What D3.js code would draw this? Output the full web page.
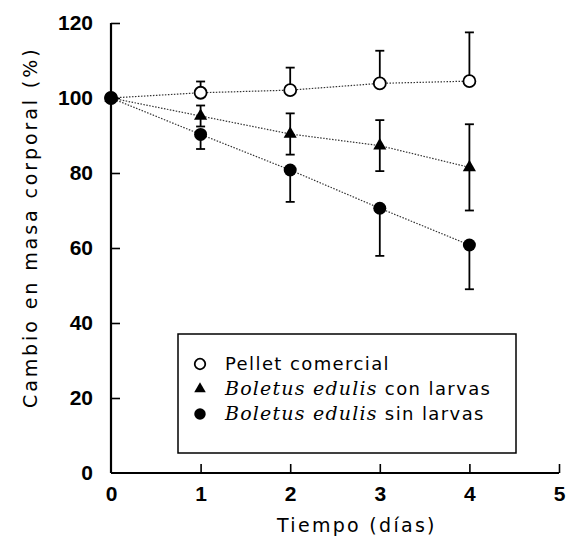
<!DOCTYPE html>
<html>
<head>
<meta charset="utf-8">
<script src="https://cdn.jsdelivr.net/npm/d3@7"></script>
<style>
  body { margin: 0; background: #fff; }
  .tick-label { font-family: "Liberation Sans", Arial, sans-serif; font-weight: bold; font-size: 21px; }
  .axis-title { font-family: "DejaVu Sans", sans-serif; font-size: 19px; }
  .legend-text { font-family: "DejaVu Sans", sans-serif; font-size: 18px; letter-spacing: 1.4px; }
  .legend-it { font-family: "DejaVu Serif", serif; font-style: italic; font-size: 19px; letter-spacing: 1.2px; }
</style>
</head>
<body>
<div class="container"></div>
<script>
var days = [0, 1, 2, 3, 4];
var seriesNames = ["Pellet comercial", "Boletus edulis con larvas", "Boletus edulis sin larvas"];
var pelletMean = [100, 101.4, 102.1, 103.9, 104.5];
var pelletSD = [0, 3, 6, 8.7, 13];
var conMean = [100, 95.2, 90.4, 87.3, 81.5];
var conSD = [0, 2.8, 5.5, 6.8, 11.5];
var sinMean = [100, 90.3, 80.8, 70.6, 60.8];
var sinSD = [0, 3.9, 8.5, 12.7, 11.8];
var xTicks = [0, 1, 2, 3, 4, 5];
var yTicks = [0, 20, 40, 60, 80, 100, 120];

var width = 568, height = 539;
var svg = d3.select(".container")
  .append("svg")
    .attr("width", width)
    .attr("height", height);

var x = d3.scaleLinear().domain([0, 5]).range([111, 559]);
var y = d3.scaleLinear().domain([0, 120]).range([473, 23]);

// axes with inward ticks
var xAxis = svg.append("g").attr("transform", "translate(0," + y(0) + ")")
  .call(d3.axisBottom(x).tickValues(xTicks).tickSize(-9).tickFormat(d3.format("d")));
var yAxis = svg.append("g").attr("transform", "translate(" + x(0) + ",0)")
  .call(d3.axisLeft(y).tickValues(yTicks).tickSize(-9).tickFormat(d3.format("d")));

[xAxis, yAxis].forEach(function(g) {
  g.select(".domain").remove();
  g.selectAll(".tick line").attr("stroke", "#000").attr("stroke-width", 1.6);
  g.selectAll(".tick text").attr("class", "tick-label").attr("fill", "#000");
});
xAxis.selectAll(".tick").filter(d => d === 0).select("line").remove();
yAxis.selectAll(".tick").filter(d => d === 0).select("line").remove();
xAxis.selectAll(".tick text").attr("y", 28).attr("dy", null);
yAxis.selectAll(".tick text").attr("x", -18);

svg.append("line")
  .attr("x1", x(0)).attr("x2", x(5)).attr("y1", y(0)).attr("y2", y(0))
  .attr("stroke", "#000").attr("stroke-width", 2.2);
svg.append("line")
  .attr("x1", x(0)).attr("x2", x(0)).attr("y1", y(0)).attr("y2", y(120))
  .attr("stroke", "#000").attr("stroke-width", 2.2);

svg.append("text")
  .attr("class", "axis-title")
  .attr("x", 277)
  .attr("y", 532)
  .style("letter-spacing", "2.3px")
  .text("Tiempo (días)");

svg.append("text")
  .attr("class", "axis-title")
  .attr("transform", "translate(37,408)rotate(-90)")
  .style("letter-spacing", "2.9px")
  .text("Cambio en masa corporal (%)");

var series = [
  { mean: pelletMean, sd: pelletSD, dir: 1, shape: "open" },
  { mean: conMean, sd: conSD, dir: 0, shape: "tri" },
  { mean: sinMean, sd: sinSD, dir: -1, shape: "dot" }
];

var line = d3.line().x((d, i) => x(days[i])).y(d => y(d));

series.forEach(function(s) {
  svg.append("path")
    .attr("d", line(s.mean))
    .attr("fill", "none")
    .attr("stroke", "#333")
    .attr("stroke-width", 1.2)
    .attr("stroke-dasharray", "1.5,1.5");
});

// error bars (only the visible side of each)
series.forEach(function(s) {
  days.forEach(function(d, i) {
    if (s.sd[i] === 0) return;
    var ends = [];
    if (s.dir >= 0) ends.push(s.mean[i] + s.sd[i]);
    if (s.dir <= 0) ends.push(s.mean[i] - s.sd[i]);
    ends.forEach(function(e) {
      svg.append("line")
        .attr("x1", x(d)).attr("x2", x(d)).attr("y1", y(s.mean[i])).attr("y2", y(e))
        .attr("stroke", "#000").attr("stroke-width", 1.8);
      svg.append("line")
        .attr("x1", x(d) - 4.5).attr("x2", x(d) + 4.5).attr("y1", y(e)).attr("y2", y(e))
        .attr("stroke", "#000").attr("stroke-width", 1.8);
    });
  });
});

function drawMarker(g, shape, cx, cy, k) {
  if (shape === "open") {
    g.append("circle").attr("cx", cx).attr("cy", cy).attr("r", 6 * k)
      .attr("fill", "#fff").attr("stroke", "#000").attr("stroke-width", 1.8);
  } else if (shape === "tri") {
    g.append("path")
      .attr("transform", "translate(" + cx + "," + cy + ")")
      .attr("d", d3.symbol().type(d3.symbolTriangle).size(75 * k * k)())
      .attr("fill", "#000");
  } else {
    g.append("circle").attr("cx", cx).attr("cy", cy).attr("r", 6.5 * k).attr("fill", "#000");
  }
}

series.forEach(function(s) {
  s.mean.forEach(function(m, i) {
    drawMarker(svg, s.shape, x(days[i]), y(m), 1);
  });
});

// legend
var legend = svg.append("g");
legend.append("rect")
  .attr("x", 178).attr("y", 334).attr("width", 338).attr("height", 119)
  .attr("fill", "#fff").attr("stroke", "#000").attr("stroke-width", 1.5);

var rowY = [364, 389, 414];
series.forEach(function(s, i) {
  drawMarker(legend, s.shape, 200, rowY[i], 0.88);
  var t = legend.append("text").attr("class", "legend-text")
    .attr("x", 225).attr("y", rowY[i] + 6);
  var name = seriesNames[i];
  if (name.indexOf("Boletus edulis") === 0) {
    t.append("tspan").attr("class", "legend-it").text("Boletus edulis");
    t.append("tspan").text(name.slice("Boletus edulis".length));
  } else {
    t.text(name);
  }
});
</script>
</body>
</html>
